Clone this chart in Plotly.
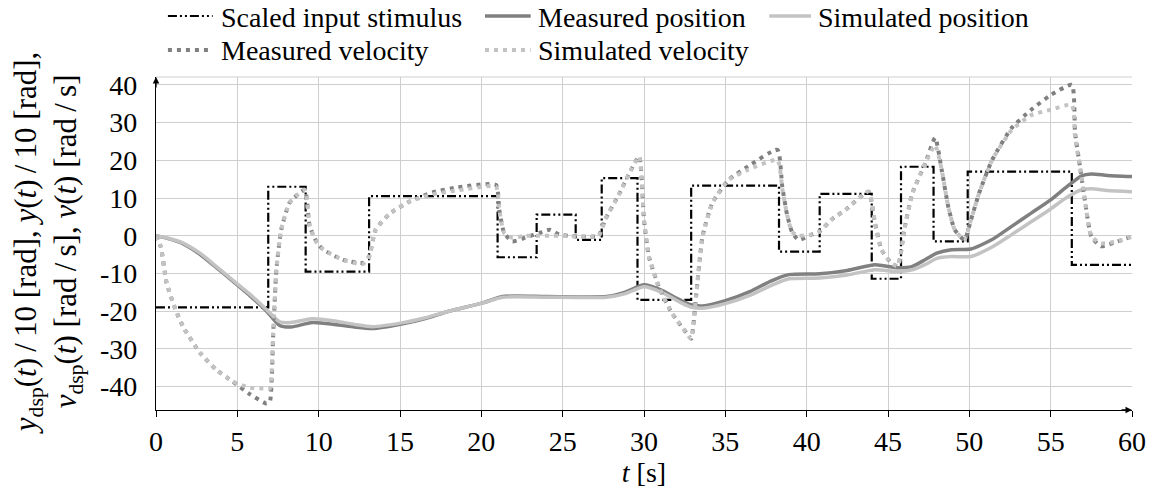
import plotly.graph_objects as go

# Scaled input stimulus: step levels held from each switch time
stim_t = [0, 6.9, 9.2, 13.1, 21.0, 23.4, 25.8, 27.4, 29.6, 32.9, 38.3, 40.8, 44.0, 45.8, 47.8, 49.9, 56.3, 60.0]
stim_v = [-19.0, 13.0, -9.5, 10.5, -5.7, 5.6, -1.1, 15.3, -17.0, 13.3, -4.2, 11.1, -11.4, 18.3, -1.5, 17.0, -7.7, -7.7]

# Position (scaled by 1/10)
pos_t = [0, 0.7, 1.7, 2.7, 3.7, 4.7, 5.8, 6.8, 7.6, 8.3, 9.6, 11.0, 12.2, 13.3, 15.1, 16.5, 18.0, 20.1,
         21.3, 24.0, 27.7, 28.8, 30.0, 31.0, 32.2, 32.9, 33.6, 35.0, 36.5, 37.8, 38.9, 40.8, 42.5, 44.2,
         45.6, 46.5, 47.3, 48.0, 48.9, 50.1, 51.4, 52.6, 53.8, 55.0, 56.0, 56.9, 57.5, 58.5, 60.0]
pos_meas = [0, -0.7, -2.2, -4.9, -8.4, -12.0, -16.0, -20.0, -23.8, -24.2, -23.0, -23.5, -24.2, -24.6, -23.4,
            -22.0, -20.0, -17.8, -16.1, -16.1, -16.1, -15.0, -13.0, -14.3, -17.0, -18.3, -18.6, -17.2, -14.8,
            -12.0, -10.3, -10.1, -9.2, -7.7, -8.5, -8.1, -6.3, -4.6, -3.7, -3.5, -1.0, 2.5, 6.0, 9.5, 13.0,
            15.9, 16.4, 16.0, 15.7]
pos_sim = [0, -0.6, -2.0, -4.6, -8.1, -11.7, -15.6, -19.6, -22.8, -23.0, -22.0, -22.6, -23.5, -24.1, -23.1,
           -21.8, -20.0, -17.8, -16.3, -16.3, -16.3, -15.4, -13.5, -14.8, -17.6, -18.9, -19.2, -18.0, -15.8,
           -13.2, -11.4, -11.2, -10.4, -9.0, -9.5, -9.0, -7.6, -6.0, -5.5, -5.5, -3.0, 0.3, 3.7, 7.1, 10.2,
           12.2, 12.5, 12.0, 11.7]

# Velocity
vel_t = [0, 0.3, 0.65, 1.2, 1.7, 2.7, 3.7, 4.7, 5.8, 6.8, 7.0, 7.2, 7.4, 7.7, 8.2, 8.7, 9.15, 9.45, 9.9,
         10.3, 11.5, 12.7, 13.1, 13.5, 14.4, 15.6, 17.0, 18.5, 20.9, 21.1, 21.4, 21.9, 22.7, 23.6, 24.2,
         24.8, 27.2, 27.6, 28.5, 29.1, 29.7, 30.0, 30.3, 30.9, 31.7, 32.6, 32.9, 33.2, 33.6, 34.2, 35.2,
         36.4, 38.2, 38.5, 38.8, 39.1, 39.5, 40.3, 40.8, 41.5, 42.4, 43.8, 44.2, 44.6, 45.2, 45.6, 46.0,
         46.5, 47.3, 47.9, 48.3, 48.7, 49.1, 49.7, 50.1, 50.6, 51.4, 52.6, 53.8, 55.0, 56.3, 56.5, 56.8,
         57.1, 57.5, 58.1, 59.1, 60.0]
vel_meas = [0, -3.0, -12.5, -19.6, -24.4, -31.0, -35.5, -38.6, -42.1, -44.5, -44.0, -26.7, -9.0, 1.6, 8.7,
            10.9, 12.2, 2.5, -1.9, -3.7, -6.4, -7.2, -5.5, 1.6, 6.0, 9.1, 11.5, 12.8, 13.5, 6.9, 0.8, -1.5,
            -0.5, 0.8, 1.6, 0.3, 0.0, 4.2, 11.3, 16.6, 21.0, 4.2, -5.5, -13.4, -20.4, -25.7, -27.3, -16.1,
            -0.2, 8.7, 14.8, 18.4, 22.8, 13.0, 5.5, 1.0, -1.1, 0.3, 1.1, 4.2, 6.9, 11.7, 3.4, -3.7, -7.2,
            -8.1, 1.6, 11.3, 19.3, 26.0, 17.5, 7.8, 1.6, -1.1, 4.2, 11.3, 20.1, 28.6, 33.4, 37.3, 40.0,
            27.3, 18.4, 9.5, -0.2, -2.8, -1.5, -0.2]
vel_sim = [0, -3.0, -12.5, -19.6, -24.4, -31.0, -35.5, -38.6, -40.3, -40.5, -40.5, -26.0, -9.0, 1.6, 8.7,
           10.9, 12.2, 2.5, -1.9, -3.7, -6.4, -7.5, -5.5, 1.6, 6.0, 9.1, 11.0, 12.0, 13.0, 6.9, 0.8, -0.5,
           0.0, 0.0, 0.0, 0.0, 0.0, 4.2, 11.3, 16.6, 21.0, 4.2, -5.5, -13.4, -20.4, -25.7, -27.3, -16.1,
           -0.2, 8.7, 14.8, 17.5, 20.1, 12.5, 5.5, 1.0, 0.0, 0.3, 1.1, 4.2, 6.9, 11.7, 3.4, -3.7, -7.2,
           -8.1, 1.6, 11.3, 19.3, 24.0, 17.5, 7.8, 1.6, -1.1, 4.2, 11.3, 20.1, 28.0, 32.0, 33.4, 34.7,
           26.0, 18.4, 9.5, -0.2, -2.0, -1.5, -0.2]

x_ticks = list(range(0, 61, 5))
y_ticks = list(range(-40, 41, 10))
y_ticklabels = [str(v) for v in y_ticks]
x_range = [0, 60]
y_range = [-46.2, 42.1]

series_names = ["Scaled input stimulus", "Measured position", "Simulated position",
                "Measured velocity", "Simulated velocity"]

FONT = "Liberation Serif"
FS = 28
DARK = "#808080"
LIGHT = "#c3c3c3"
GRID = "#cfcfcf"

W, H = 1158, 496
M_L, M_R, M_T, M_B = 156, 20, 77, 86
PW, PH = W - M_L - M_R, H - M_T - M_B


def px_to_paper(px, py):
    return (px - M_L) / PW, (H - M_B - py) / PH


styles = [
    dict(color="black", width=2.2, dash="9px,3px,2px,3px,2px,3px"),
    dict(color=DARK, width=3.5, dash="solid"),
    dict(color=LIGHT, width=3.5, dash="solid"),
    dict(color=DARK, width=4, dash="4px,5px"),
    dict(color=LIGHT, width=4, dash="4px,5px"),
]

fig = go.Figure()

fig.add_trace(go.Scatter(x=stim_t, y=stim_v, mode="lines", name=series_names[0],
                         line=dict(styles[0], shape="hv")))
fig.add_trace(go.Scatter(x=pos_t, y=pos_meas, mode="lines", name=series_names[1],
                         line=dict(styles[1], shape="spline", smoothing=0.6)))
fig.add_trace(go.Scatter(x=pos_t, y=pos_sim, mode="lines", name=series_names[2],
                         line=dict(styles[2], shape="spline", smoothing=0.6)))
fig.add_trace(go.Scatter(x=vel_t, y=vel_meas, mode="lines", name=series_names[3],
                         line=dict(styles[3], shape="spline", smoothing=0.5)))
fig.add_trace(go.Scatter(x=vel_t, y=vel_sim, mode="lines", name=series_names[4],
                         line=dict(styles[4], shape="spline", smoothing=0.5)))

fig.update_layout(
    width=W, height=H,
    margin=dict(l=M_L, r=M_R, t=M_T, b=M_B),
    paper_bgcolor="white", plot_bgcolor="white",
    font=dict(family=FONT, size=FS, color="black"),
    showlegend=False,
    xaxis=dict(range=x_range, tickvals=x_ticks, showgrid=True, gridcolor=GRID, gridwidth=1,
               showline=True, linecolor="black", linewidth=1.3, ticks="outside", ticklen=6,
               tickcolor="black", zeroline=False, tickfont=dict(size=FS),
               title=dict(text="<i>t</i> [s]", font=dict(size=FS), standoff=2)),
    yaxis=dict(range=y_range, tickvals=y_ticks, ticktext=y_ticklabels, showgrid=True,
               gridcolor=GRID, gridwidth=1, showline=True, linecolor="black", linewidth=1.3,
               ticks="", zeroline=False, tickfont=dict(size=FS), ticklabelstandoff=12),
)

# frame line along the top of the plotting area
fig.add_shape(type="line", xref="paper", yref="paper", x0=0, x1=1, y0=1, y1=1,
              line=dict(color=GRID, width=1), layer="below")

# arrow heads at the ends of both axes
fig.add_annotation(x=0, y=y_range[1], xref="x", yref="y", ax=0, ay=12, text="",
                   showarrow=True, arrowhead=2, arrowsize=1, arrowwidth=1.3, arrowcolor="black")
fig.add_annotation(x=x_range[1], y=y_range[0], xref="x", yref="y", ax=-12, ay=0, text="",
                   showarrow=True, arrowhead=2, arrowsize=1, arrowwidth=1.3, arrowcolor="black")

# legend laid out as a 3-column grid above the plot
legend_slots = [(168, 213, 219, 16), (487, 533, 538, 16), (773, 815, 820, 16),
                (168, 213, 219, 50), (487, 533, 538, 50)]
for name, st, (sx0, sx1, tx, ry) in zip(series_names, styles, legend_slots):
    x0, y0 = px_to_paper(sx0, ry)
    x1, _ = px_to_paper(sx1, ry)
    fig.add_shape(type="line", xref="paper", yref="paper", x0=x0, x1=x1, y0=y0, y1=y0,
                  line=dict(color=st["color"], width=st["width"], dash=st["dash"]))
    xt, yt = px_to_paper(tx, ry + 1)
    fig.add_annotation(xref="paper", yref="paper", x=xt, y=yt, xanchor="left", yanchor="middle",
                       text=name, showarrow=False, font=dict(family=FONT, size=FS, color="black"))

# two-line y-axis title, centred on the plotting area
TS = "\u2009"
ytitle = (f"<i>y</i><sub>dsp</sub>(<i>t</i>){TS}/{TS}10 [rad], <i>y</i>(<i>t</i>){TS}/{TS}10 [rad],<br>"
          f"<i>v</i><sub>dsp</sub>(<i>t</i>) [rad{TS}/{TS}s], <i>v</i>(<i>t</i>) [rad{TS}/{TS}s]")
tx, _ = px_to_paper(47, 0)
fig.add_annotation(
    xref="paper", yref="paper", x=tx, y=0.5, xanchor="center", yanchor="middle",
    textangle=-90, align="center", showarrow=False,
    font=dict(family=FONT, size=31, color="black"), text=ytitle)

fig.write_html("out.html")
